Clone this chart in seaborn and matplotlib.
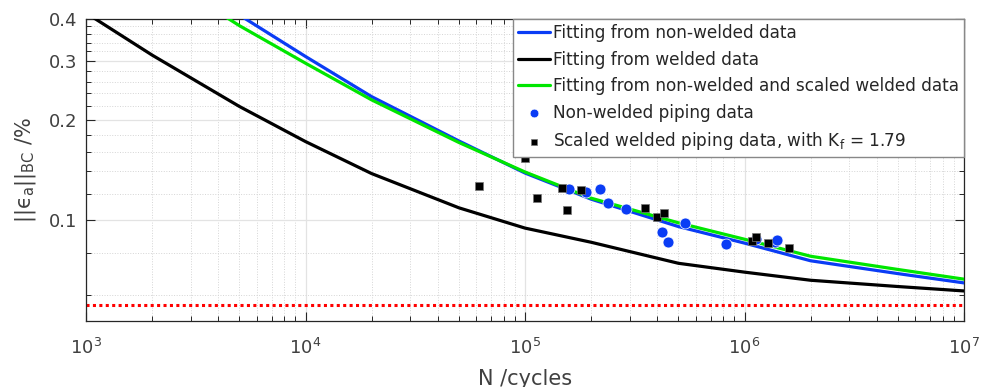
import numpy as np
import pandas as pd
import matplotlib
matplotlib.use('Agg')
import matplotlib.pyplot as plt
import seaborn as sns
from matplotlib.ticker import FixedLocator, FixedFormatter, LogLocator, NullFormatter

# fitted curves
n_blue = [5e3, 1e4, 2e4, 5e4, 1e5, 2e5, 5e5, 1e6, 2e6, 5e6, 1e7]
eps_blue = [0.411, 0.309, 0.2344, 0.1727, 0.1385, 0.1157, 0.0958, 0.0855, 0.0757, 0.0693, 0.0650]

n_black = [1e3, 2e3, 5e3, 1e4, 2e4, 5e4, 1e5, 2e5, 5e5, 1e6, 2e6, 5e6, 1e7]
eps_black = [0.417, 0.312, 0.219, 0.172, 0.138, 0.109, 0.0948, 0.0860, 0.0744, 0.0700, 0.0662, 0.0634, 0.0615]

n_green = [2e3, 5e3, 1e4, 2e4, 5e4, 1e5, 2e5, 5e5, 1e6, 2e6, 5e6, 1e7]
eps_green = [0.56, 0.382, 0.295, 0.2292, 0.1709, 0.1395, 0.1165, 0.0983, 0.0878, 0.0781, 0.0713, 0.0667]

# test data
n_nonwelded = [1.587e5, 1.896e5, 2.196e5, 2.396e5, 2.885e5, 4.196e5, 4.496e5, 5.357e5,
               8.21e5, 1.128e6, 1.377e6, 1.402e6]
eps_nonwelded = [0.124, 0.1217, 0.124, 0.1124, 0.108, 0.0924, 0.0862, 0.0979,
                 0.0847, 0.0877, 0.0862, 0.0873]

n_welded = [6.17e4, 1.0e5, 1.131e5, 1.47e5, 1.549e5, 1.794e5, 3.52e5, 3.98e5, 4.31e5,
            1.079e6, 1.128e6, 1.283e6, 1.595e6]
eps_welded = [0.1266, 0.1533, 0.1163, 0.1251, 0.1073, 0.1232, 0.1086, 0.102, 0.1049,
              0.0866, 0.0892, 0.0858, 0.0829]

limit_line = 0.0558

sns.set_style('ticks')
plt.rcParams['font.family'] = ['DejaVu Sans']
plt.rcParams['mathtext.fontset'] = 'dejavusans'
plt.rcParams['mathtext.default'] = 'regular'

fig = plt.figure(figsize=(9.81, 3.87), dpi=100)
ax = fig.add_axes([0.0877, 0.1705, 0.895, 0.7804])

lw = 2.3
sns.lineplot(x=n_blue, y=eps_blue, color='#0a3cf5', lw=lw, label='Fitting from non-welded data', ax=ax, zorder=3)
sns.lineplot(x=n_black, y=eps_black, color='black', lw=lw, label='Fitting from welded data', ax=ax, zorder=3)
sns.lineplot(x=n_green, y=eps_green, color='#00e600', lw=lw, label='Fitting from non-welded and scaled welded data', ax=ax, zorder=3)
sns.scatterplot(x=n_nonwelded, y=eps_nonwelded, color='#0a3cf5', marker='o', s=62,
                edgecolor='white', linewidth=0.5, label='Non-welded piping data', ax=ax, zorder=4)
sns.scatterplot(x=n_welded, y=eps_welded, color='black', marker='s', s=36,
                edgecolor='#777777', linewidth=0.5, label='Scaled welded piping data, with $K_f$ = 1.79', ax=ax, zorder=5)
ax.axhline(limit_line, color='red', ls=(0, (1, 1.1)), lw=2.2, zorder=2)

ax.set_xscale('log')
ax.set_yscale('log')
ax.set_xlim(1e3, 1e7)
ax.set_ylim(0.05, 0.4)

ax.xaxis.set_minor_locator(LogLocator(base=10, subs=np.arange(2, 10)))
ax.xaxis.set_minor_formatter(NullFormatter())
ax.yaxis.set_major_locator(FixedLocator([0.1, 0.2, 0.3, 0.4]))
ax.yaxis.set_major_formatter(FixedFormatter(['0.1', '0.2', '0.3', '0.4']))
ax.yaxis.set_minor_locator(FixedLocator([0.06, 0.08, 0.12, 0.14, 0.16, 0.18, 0.22, 0.24,
                                         0.26, 0.28, 0.32, 0.34, 0.36, 0.38]))
ax.yaxis.set_minor_formatter(NullFormatter())

ax.grid(which='major', color='#e3e3e3', lw=0.9, ls='-', zorder=0)
ax.grid(which='minor', color='#d5d5d5', lw=0.7, ls=':', zorder=0)
ax.tick_params(which='both', direction='in', top=True, right=True, colors='#262626',
               labelcolor='#404040', labelsize=13)
ax.tick_params(which='major', length=6.5, width=0.8)
ax.tick_params(which='minor', length=3.5, width=0.7)
ax.tick_params(axis='x', which='major', pad=12)
ax.tick_params(axis='y', which='major', pad=6)
for sp in ax.spines.values():
    sp.set_color('#262626')
    sp.set_linewidth(0.9)

ax.set_xlabel('N /cycles', fontsize=15, color='#404040', labelpad=8)
ax.set_ylabel('$||ϵ_a||_{BC}$ /%', fontsize=15, color='#404040', labelpad=8)

ax.legend(loc='upper right', borderaxespad=0, fancybox=False, edgecolor='#888888',
          framealpha=1, fontsize=12.2, handlelength=1.85, handletextpad=0.2,
          labelspacing=0.5, borderpad=0.3, markerscale=0.8)

fig.savefig('out.png', dpi=100)
